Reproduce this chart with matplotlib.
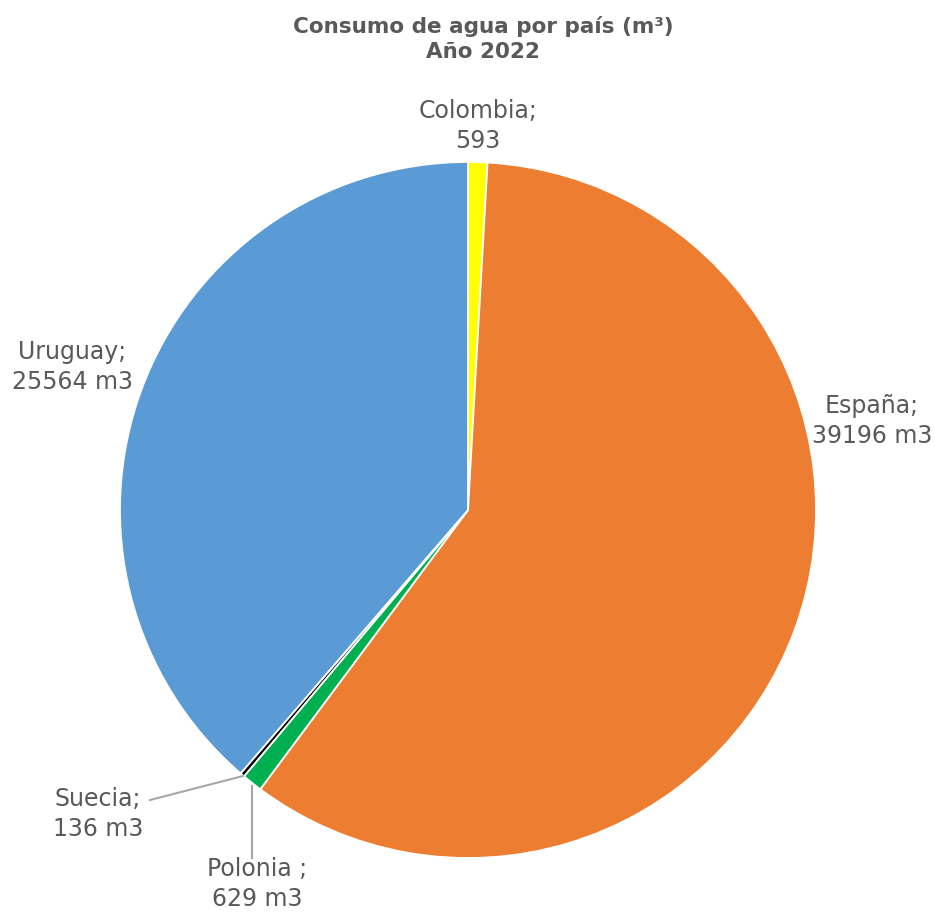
import matplotlib.pyplot as plt

paises = ['Colombia', 'España', 'Polonia ', 'Suecia', 'Uruguay']
consumo = [593, 39196, 629, 136, 25564]
etiquetas = ['Colombia;\n593', 'España;\n39196 m3', 'Polonia ;\n629 m3', 'Suecia;\n136 m3', 'Uruguay;\n25564 m3']
colores = ['#FFFF00', '#ED7D31', '#00B050', '#000000', '#5B9BD5']

W, H = 935, 918
fig = plt.figure(figsize=(W / 100, H / 100), dpi=100)
ax = fig.add_axes([0, 0, 1, 1])

cx, cy, r = 468, H - 510, 348
ax.pie(consumo, colors=colores, startangle=90, counterclock=False,
       center=(cx, cy), radius=r, frame=True,
       wedgeprops=dict(edgecolor='white', linewidth=1.3))
ax.set_xlim(0, W)
ax.set_ylim(0, H)
ax.axis('off')

gris = '#595959'
fs = 17
# posiciones de etiquetas (pixeles)
pos = {
    'Colombia;\n593': (478, 126),
    'España;\n39196 m3': (872, 421),
    'Polonia ;\n629 m3': (257, 884),
    'Suecia;\n136 m3': (98, 814),
    'Uruguay;\n25564 m3': (72, 367),
}
for txt in etiquetas:
    x, y = pos[txt]
    ax.text(x, H - y, txt, ha='center', va='center', fontsize=fs, color=gris,
            linespacing=1.35)

# lineas guia
ax.plot([243, 150], [H - 776, H - 800], color='#A6A6A6', lw=1.5)
ax.plot([252, 252], [H - 786, H - 858], color='#A6A6A6', lw=1.5)

ax.text(483, H - 39, 'Consumo de agua por país (m³)\nAño 2022', ha='center', va='center',
        fontsize=15.5, fontweight='bold', color=gris, linespacing=1.3)

fig.savefig('out.png', dpi=100)
